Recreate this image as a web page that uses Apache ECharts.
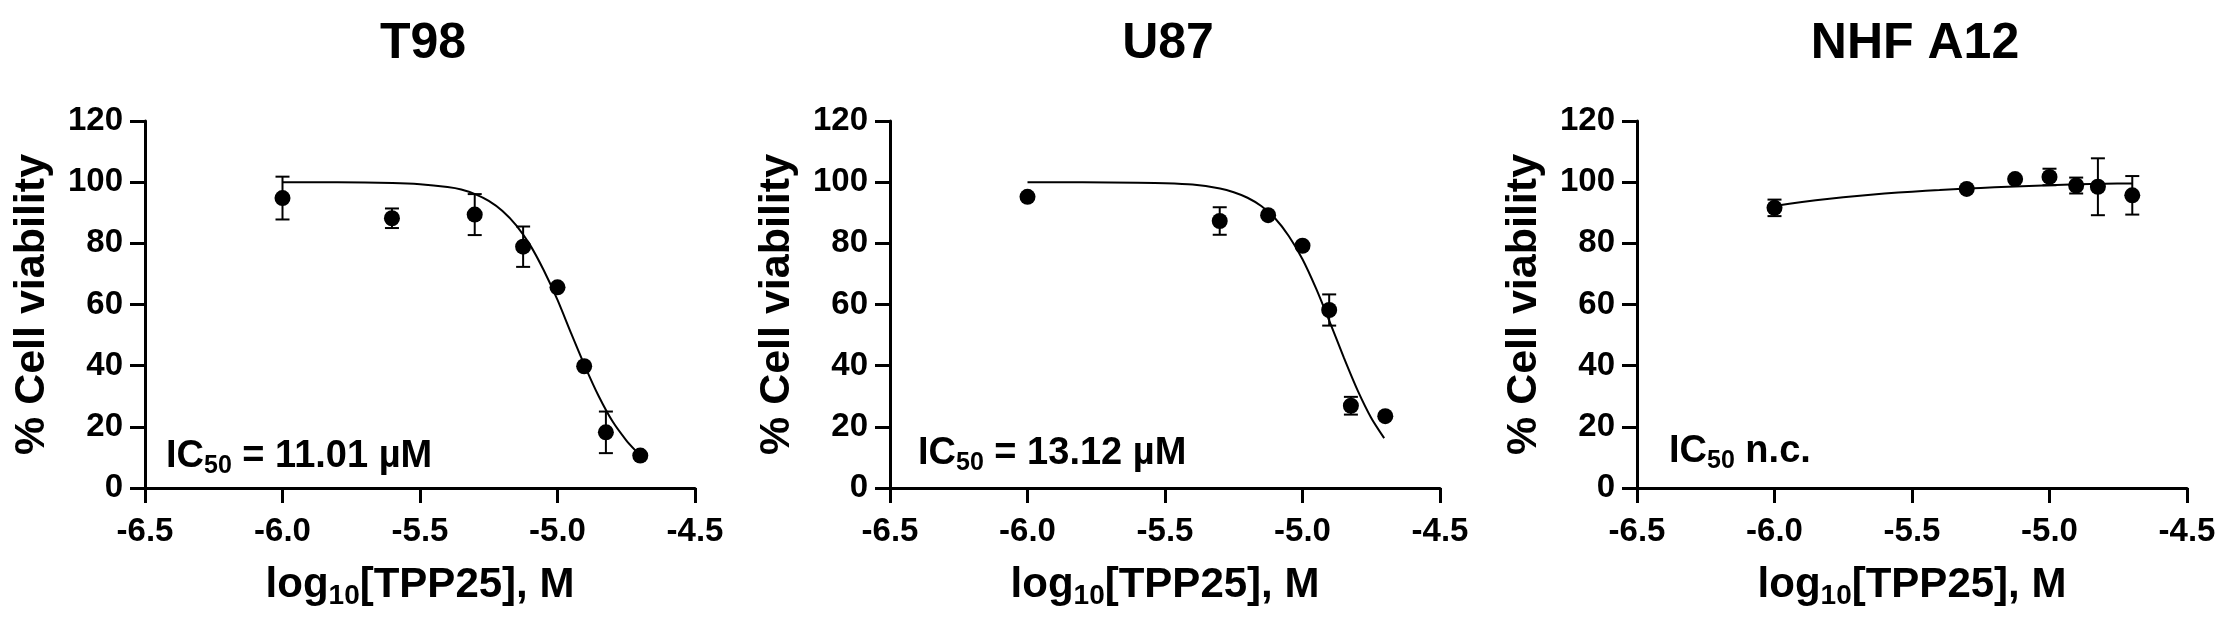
<!DOCTYPE html>
<html>
<head>
<meta charset="utf-8">
<script src="https://cdn.jsdelivr.net/npm/echarts@6/dist/echarts.min.js"></script>
<style>html,body{margin:0;padding:0;background:#fff;}#chart{width:2238px;height:626px;}</style>
</head>
<body>
<div id="chart"></div>
<script>
// ---------- data ----------
const panelTitles = ['T98', 'U87', 'NHF A12'];
const ic50Labels = ['= 11.01 µM', '= 13.12 µM', 'n.c.'];
const xTicks = [-6.5, -6.0, -5.5, -5.0, -4.5];
const yTicks = [0, 20, 40, 60, 80, 100, 120];

// T98
const t98X    = [-6.0, -5.602, -5.301, -5.125, -5.0, -4.903, -4.824, -4.699];
const t98Mean = [94.8, 88.2, 89.4, 78.9, 65.6, 39.8, 18.2, 10.6];
const t98Err  = [7.0, 3.2, 6.7, 6.6, 0, 0, 6.8, 0];
const t98CurveX = [-6.0, -5.8, -5.6, -5.5, -5.4, -5.35, -5.3, -5.25, -5.2, -5.15, -5.1, -5.05, -5.0, -4.95, -4.9, -4.85, -4.8, -4.75, -4.716];
const t98CurveY = [100, 99.95, 99.7, 99.3, 98.4, 97.6, 96.1, 93.9, 90.6, 85.9, 79.5, 71.2, 61.5, 50.5, 39.8, 30.0, 21.8, 15.6, 12.2];

// U87
const u87X    = [-6.0, -5.301, -5.125, -5.0, -4.903, -4.824, -4.699];
const u87Mean = [95.2, 87.3, 89.2, 79.2, 58.2, 26.9, 23.5];
const u87Err  = [0, 4.5, 0, 0, 5.1, 2.9, 0];
const u87CurveX = [-6.0, -5.8, -5.6, -5.5, -5.4, -5.3, -5.25, -5.2, -5.15, -5.1, -5.05, -5.0, -4.95, -4.9, -4.85, -4.8, -4.75, -4.703];
const u87CurveY = [100, 99.95, 99.8, 99.65, 99.2, 97.9, 96.7, 94.9, 92.2, 88.2, 82.4, 74.8, 65.1, 54.1, 42.7, 32.0, 22.9, 16.3];

// NHF A12
const nhfX    = [-6.0, -5.301, -5.125, -5.0, -4.903, -4.824, -4.699];
const nhfMean = [91.6, 97.8, 101.0, 101.7, 98.9, 98.5, 95.7];
const nhfErr  = [2.7, 0, 0, 2.7, 2.6, 9.3, 6.3];
const nhfCurveX = [-6.0, -5.9, -5.8, -5.7, -5.6, -5.5, -5.4, -5.3, -5.2, -5.1, -5.0, -4.9, -4.8, -4.7];
const nhfCurveY = [92.2, 93.5, 94.6, 95.5, 96.3, 96.9, 97.4, 97.9, 98.3, 98.7, 99.0, 99.3, 99.5, 99.6];

// ---------- layout ----------
const FONT = '"Liberation Sans", Arial, Helvetica, sans-serif';
const gridLeft = [145, 890, 1637];
const gridW = 550, gridTop = 121, gridH = 367;
const icOffset = [[21, 457], [28, 454], [32, 452]];

const panels = [
  {x: t98X, m: t98Mean, e: t98Err, cx: t98CurveX, cy: t98CurveY},
  {x: u87X, m: u87Mean, e: u87Err, cx: u87CurveX, cy: u87CurveY},
  {x: nhfX, m: nhfMean, e: nhfErr, cx: nhfCurveX, cy: nhfCurveY}
];

function errRender(params, api) {
  const x = api.value(0), lo = api.value(1), hi = api.value(2);
  const a = api.coord([x, lo]), b = api.coord([x, hi]);
  const hw = 7;
  const st = {stroke: '#000', lineWidth: 2};
  return {type: 'group', children: [
    {type: 'line', shape: {x1: a[0], y1: a[1], x2: b[0], y2: b[1]}, style: st},
    {type: 'line', shape: {x1: a[0] - hw, y1: a[1], x2: a[0] + hw, y2: a[1]}, style: st},
    {type: 'line', shape: {x1: b[0] - hw, y1: b[1], x2: b[0] + hw, y2: b[1]}, style: st}
  ]};
}

const grid = [], xAxis = [], yAxis = [], series = [], graphic = [];
panels.forEach((p, i) => {
  grid.push({left: gridLeft[i], top: gridTop, width: gridW, height: gridH});
  xAxis.push({
    type: 'value', gridIndex: i, min: xTicks[0], max: xTicks[xTicks.length - 1], interval: 0.5,
    splitLine: {show: false},
    axisLine: {show: true, onZero: false, lineStyle: {color: '#000', width: 3}},
    axisTick: {show: true, length: 15, lineStyle: {color: '#000', width: 3}},
    axisLabel: {color: '#000', fontSize: 33, fontWeight: 'bold', fontFamily: FONT, margin: 27,
      formatter: v => v.toFixed(1)},
    name: '{a|log}{s|10}{a|[TPP25], M}', nameLocation: 'middle', nameGap: 72,
    nameTextStyle: {rich: {
      a: {fontSize: 42, fontWeight: 'bold', fontFamily: FONT, color: '#000', lineHeight: 50},
      s: {fontSize: 28, fontWeight: 'bold', fontFamily: FONT, color: '#000', lineHeight: 26, verticalAlign: 'bottom'}
    }}
  });
  yAxis.push({
    type: 'value', gridIndex: i, min: yTicks[0], max: yTicks[yTicks.length - 1], interval: 20,
    splitLine: {show: false},
    axisLine: {show: true, onZero: false, lineStyle: {color: '#000', width: 3}},
    axisTick: {show: true, length: 15, lineStyle: {color: '#000', width: 3}},
    axisLabel: {color: '#000', fontSize: 33, fontWeight: 'bold', fontFamily: FONT, margin: 22},
    name: '% Cell viability', nameLocation: 'middle', nameGap: 90,
    nameTextStyle: {color: '#000', fontSize: 43, fontWeight: 'bold', fontFamily: FONT, lineHeight: 46}
  });
  series.push({
    type: 'line', xAxisIndex: i, yAxisIndex: i, smooth: 0.25,
    showSymbol: false, symbol: 'none', lineStyle: {color: '#000', width: 2}, z: 2,
    data: p.cx.map((x, k) => [x, p.cy[k]]), silent: true
  });
  series.push({
    type: 'custom', xAxisIndex: i, yAxisIndex: i, renderItem: errRender, z: 3,
    encode: {x: 0, y: [1, 2]},
    data: p.x.map((x, k) => [x, p.m[k] - p.e[k], p.m[k] + p.e[k]]).filter((d, k) => p.e[k] > 0)
  });
  series.push({
    type: 'scatter', xAxisIndex: i, yAxisIndex: i, symbol: 'circle', symbolSize: 16, z: 4,
    itemStyle: {color: '#000', opacity: 1},
    data: p.x.map((x, k) => [x, p.m[k]])
  });
  graphic.push({
    type: 'text', x: gridLeft[i] + gridW / 2 + 3, y: 44,
    style: {text: panelTitles[i], fill: '#000', font: 'bold 50px ' + FONT, textAlign: 'center', textVerticalAlign: 'middle'}
  });
  graphic.push({
    type: 'text', x: gridLeft[i] + icOffset[i][0], y: icOffset[i][1],
    style: {
      text: '{a|IC}{s|50}{a| ' + ic50Labels[i] + '}', textAlign: 'left', textVerticalAlign: 'middle',
      rich: {
        a: {fontSize: 38, fontWeight: 'bold', fontFamily: FONT, fill: '#000', lineHeight: 44},
        s: {fontSize: 25, fontWeight: 'bold', fontFamily: FONT, fill: '#000', lineHeight: 22, verticalAlign: 'bottom'}
      }
    }
  });
});

const chart = echarts.init(document.getElementById('chart'), null, {renderer: 'canvas'});
chart.setOption({
  backgroundColor: '#fff', animation: false,
  grid, xAxis, yAxis, series, graphic
});
</script>
</body>
</html>
